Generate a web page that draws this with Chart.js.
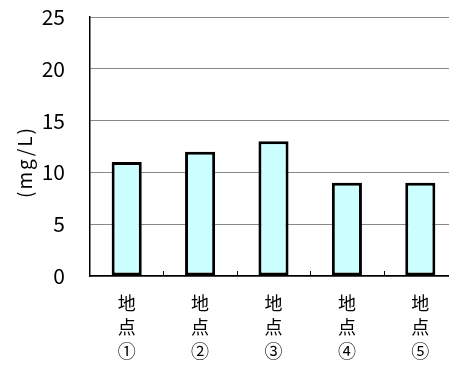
<!DOCTYPE html>
<html>
<head>
<meta charset="utf-8">
<script src="https://cdn.jsdelivr.net/npm/chart.js@4/dist/chart.umd.min.js"></script>
<style>
    html, body { margin: 0; padding: 0; background: #fff; overflow: hidden; }
    #wrap { width: 457px; height: 367px; }
</style>
</head>
<body>
<div id="wrap"><canvas id="popChart"></canvas></div>
<script>
var categories = [["地", "点", "①"], ["地", "点", "②"], ["地", "点", "③"], ["地", "点", "④"], ["地", "点", "⑤"]];
var values = [11, 12, 13, 9, 9];
var yTicks = [0, 5, 10, 15, 20, 25];
var yTitle = "(mg/L)";

var font = "'Noto Sans CJK JP', 'Noto Sans', sans-serif";

// short inward tick marks between categories on the x axis
var betweenTicks = {
    id: 'betweenTicks',
    afterDatasetsDraw: function (chart) {
        var x = chart.scales.x, ctx = chart.ctx;
        var bottom = chart.chartArea.bottom;
        ctx.save();
        ctx.strokeStyle = '#000';
        ctx.lineWidth = 1;
        for (var i = 0; i < categories.length - 1; i++) {
            var px = Math.round((x.getPixelForTick(i) + x.getPixelForTick(i + 1)) / 2) + 0.5;
            ctx.beginPath();
            ctx.moveTo(px, bottom);
            ctx.lineTo(px, bottom - 5);
            ctx.stroke();
        }
        ctx.restore();
    }
};

var axisTitle = {
    id: 'axisTitle',
    afterDraw: function (chart) {
        var ctx = chart.ctx, area = chart.chartArea;
        ctx.save();
        ctx.translate(25, area.top + (area.bottom - area.top) * 0.56);
        ctx.rotate(-Math.PI / 2);
        ctx.font = "19px " + font;
        ctx.letterSpacing = '2px';
        ctx.fillStyle = '#000';
        ctx.textAlign = 'center';
        ctx.textBaseline = 'middle';
        ctx.fillText(yTitle, 0, 0);
        ctx.restore();
    }
};

var chart = new Chart(document.getElementById("popChart"), {
    type: 'bar',
    data: {
        labels: categories,
        datasets: [{
            data: values,
            backgroundColor: '#ccffff',
            borderColor: '#000',
            borderWidth: 3,
            borderSkipped: false,
            categoryPercentage: 1,
            barPercentage: 0.41
        }]
    },
    options: {
        responsive: true,
        maintainAspectRatio: false,
        animation: false,
        layout: { padding: { top: 17, left: 0, right: 0, bottom: 0 } },
        plugins: {
            legend: { display: false },
            tooltip: { enabled: false }
        },
        scales: {
            x: {
                grid: { display: false },
                border: { display: true, color: '#000', width: 1.5 },
                ticks: {
                    color: '#000',
                    padding: 7,
                    maxRotation: 0,
                    autoSkip: false,
                    font: { family: font, size: 18, lineHeight: 1.33 }
                },
                afterFit: function (scale) { scale.height = 91; }
            },
            y: {
                min: 0,
                max: 25,
                afterBuildTicks: function (scale) {
                    scale.ticks = yTicks.map(function (v) { return { value: v }; });
                },
                grid: { color: '#888', drawTicks: false, lineWidth: 1 },
                border: { display: true, color: '#000', width: 1.5 },
                ticks: {
                    color: '#000',
                    padding: 25,
                    font: { family: font, size: 21 }
                },
                afterFit: function (scale) {
                    scale.width = 90;
                    scale.paddingTop = 0;
                    scale.paddingBottom = 0;
                }
            }
        }
    },
    plugins: [betweenTicks, axisTitle]
});
</script>
</body>
</html>
